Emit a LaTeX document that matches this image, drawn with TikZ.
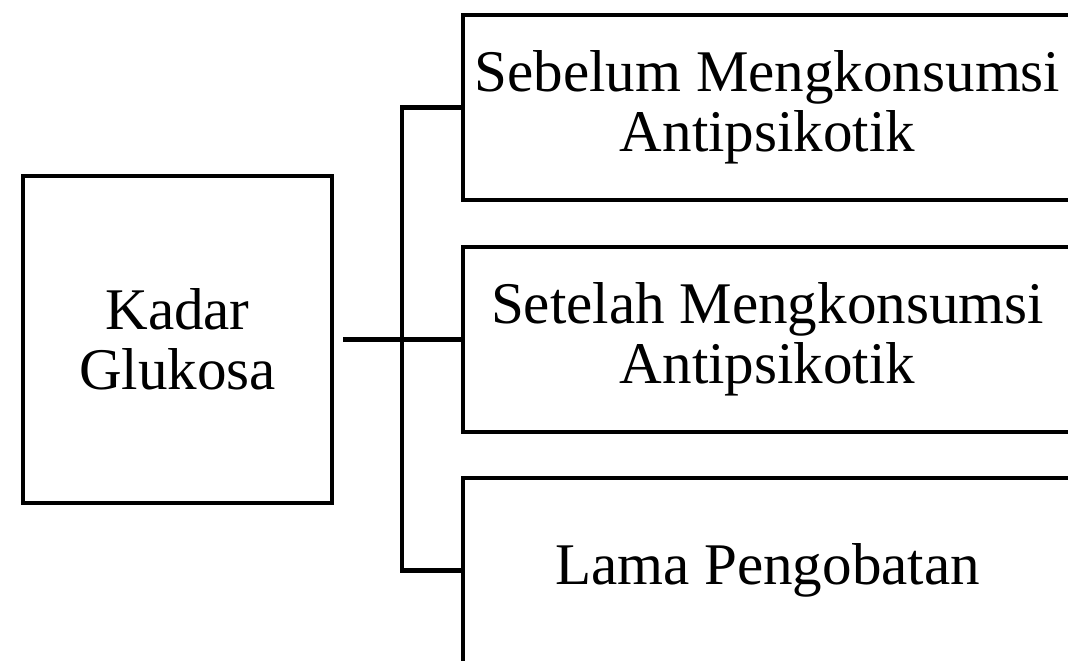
\documentclass[tikz,border=0pt]{standalone}
\usepackage{fontspec}
\setmainfont{Liberation Serif}
\begin{document}
\begin{tikzpicture}[x=0.025cm,y=-0.025cm,
  box/.style={draw=black,line width=2.9pt,fill=white,align=center,inner sep=0pt,
    font=\fontsize{42}{42.7}\selectfont},
  conn/.style={draw=black,line width=2.9pt}]
\useasboundingbox (0,0) rectangle (1068,660);
\node[box,minimum width=7.725cm,minimum height=8.175cm] (kadar) at (177.5,339.5) {Kadar\\Glukosa};
\node[box,minimum width=15.225cm,minimum height=4.625cm] (sebelum) at (767.5,107.5) {Sebelum Mengkonsumsi\\Antipsikotik};
\node[box,minimum width=15.225cm,minimum height=4.625cm] (setelah) at (767.5,339.5) {Setelah Mengkonsumsi\\Antipsikotik};
\node[box,minimum width=15.225cm,minimum height=4.625cm] (lama) at (767.5,570.5) {Lama Pengobatan};
\coordinate (j) at (402,339.5);
\draw[conn] ([xshift=0.225cm]kadar.east) -- (setelah.west);
\draw[conn] (sebelum.west) -| (j) |- (lama.west);
\end{tikzpicture}
\end{document}
